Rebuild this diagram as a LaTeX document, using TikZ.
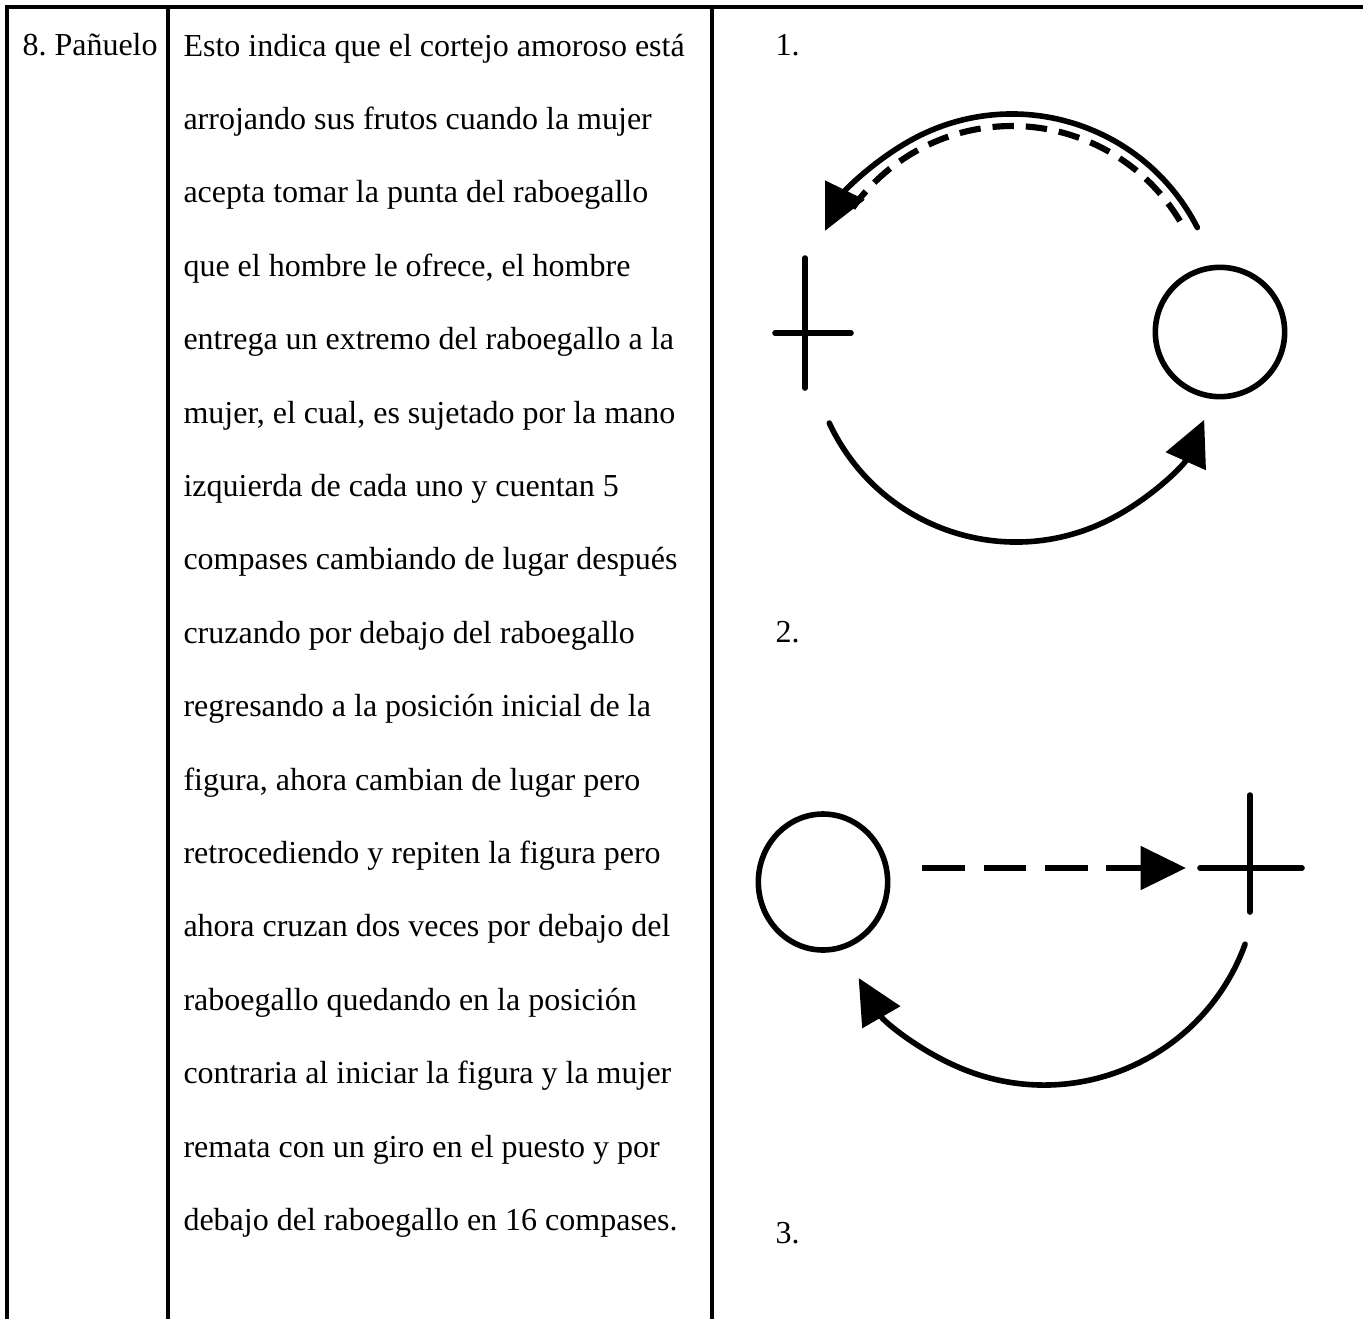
\documentclass[tikz,border=0pt]{standalone}
\usepackage{fontspec}
\setmainfont{Liberation Serif}
\usetikzlibrary{arrows.meta,positioning,shapes.geometric}

\tikzset{
  rule/.style={line width=1.2pt},
  stroke/.style={line width=2.1pt,line cap=round},
  dashstroke/.style={line width=2.3pt,dash pattern=on 16pt off 7pt},
  arcdash/.style={line width=2.3pt,dash pattern=on 8pt off 4.5pt},
  tip/.style={-{Triangle[length=17pt,width=16pt]}},
  txt/.style={anchor=base west,inner sep=0pt,font=\fontsize{12}{14}\selectfont\frenchspacing},
  woman/.style={ellipse,draw,line width=2.1pt,inner sep=0pt,minimum width=48.5pt,minimum height=48.5pt},
}

\begin{document}
\begin{tikzpicture}[x=0.375pt,y=-0.375pt]
\useasboundingbox (0,0) rectangle (1363,1319);
% table
\draw[rule] (5,7) -- (1363,7);
\draw[rule] (7,7) -- (7,1319) (168,7) -- (168,1319) (712,7) -- (712,1319);
\node[txt] (fig) at (22,55) {8. Pañuelo};
\foreach \t [count=\i from 0] in {Esto indica que el cortejo amoroso está,
  arrojando sus frutos cuando la mujer,
  acepta tomar la punta del raboegallo,
  {que el hombre le ofrece, el hombre},
  entrega un extremo del raboegallo a la,
  {mujer, el cual, es sujetado por la mano},
  izquierda de cada uno y cuentan 5,
  compases cambiando de lugar después,
  cruzando por debajo del raboegallo,
  regresando a la posición inicial de la,
  {figura, ahora cambian de lugar pero},
  retrocediendo y repiten la figura pero,
  ahora cruzan dos veces por debajo del,
  raboegallo quedando en la posición,
  contraria al iniciar la figura y la mujer,
  remata con un giro en el puesto y por,
  debajo del raboegallo en 16 compases.}
  \node[txt] (line\i) at (183,{56+73.4*\i}) {\t};
\node[txt] (step1) at (775,55) {1.};
\node[txt] (step2) at (775,642) {2.};
\node[txt] (step3) at (775,1243) {3.};

% figure 1
\coordinate (c1) at (1012,322);
\coordinate (c1b) at (1016,336);
\coordinate (man1) at (805,333);
\node[woman] (woman1) at (1220,332) {};
\draw[stroke] (man1) ++(0,-75) -- ++(0,130) (man1) ++(-30,0) -- ++(76,0);
\draw[stroke,tip] ([shift={(c1)}]-27:208) arc[start angle=-27,end angle=-154,radius=208];
\draw[arcdash] ([shift={(c1)}]-31:196) arc[start angle=-31,end angle=-146,radius=196];
\draw[stroke,tip] ([shift={(c1b)}]155:206) arc[start angle=155,end angle=24,radius=206];

% figure 2
\coordinate (c2) at (1044,871);
\coordinate (man2) at (1250,868);
\node[woman,minimum height=51pt] (woman2) at (823,882) {};
\draw[stroke] (man2) ++(0,-73) -- ++(0,117) (man2) ++(-50,0) -- ++(102,0);
\draw[dashstroke,tip] (woman2.east |- man2) ++(32,0) -- ([xshift=-24pt]man2);
\draw[stroke,tip] ([shift={(c2)}]20:214) arc[start angle=20,end angle=150,radius=214];
\end{tikzpicture}
\end{document}
